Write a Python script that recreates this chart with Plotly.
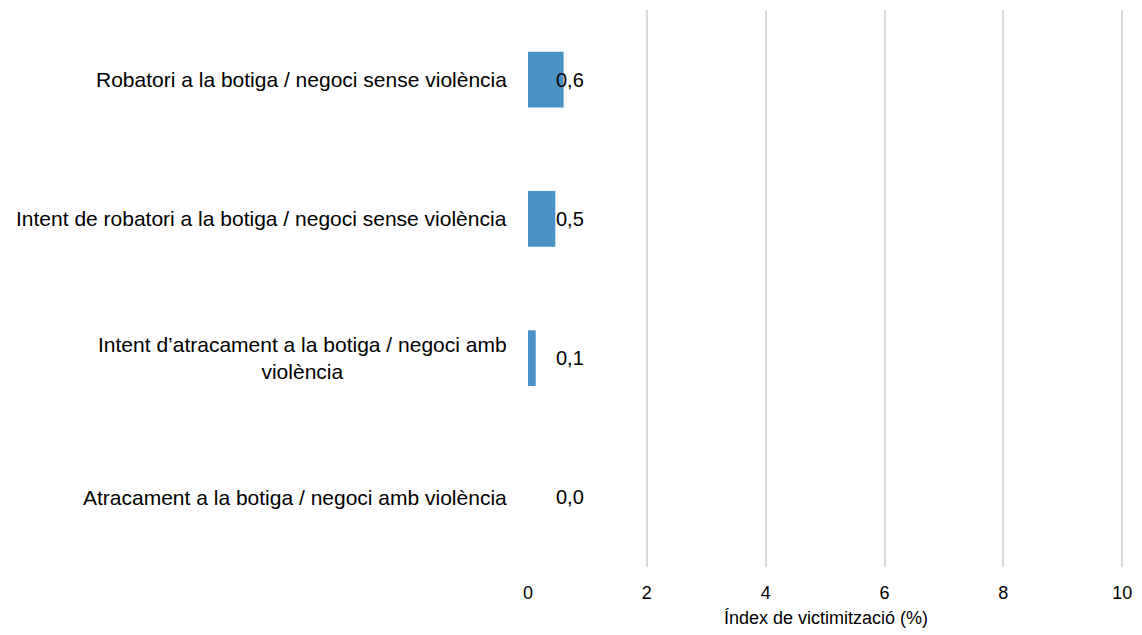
import plotly.graph_objects as go

categories = [
    "Atracament a la botiga / negoci amb violència",
    "Intent d’atracament a la botiga / negoci amb<br>violència",
    "Intent de robatori a la botiga / negoci sense violència",
    "Robatori a la botiga / negoci sense violència",
]
values = [0.0, 0.13, 0.46, 0.6]
value_labels = ["0,0", "0,1", "0,5", "0,6"]
x_ticks = [0, 2, 4, 6, 8, 10]
x_title = "Índex de victimització (%)"

FONT = "Liberation Sans, Arial, sans-serif"

fig = go.Figure()
fig.add_trace(go.Bar(
    y=categories,
    x=values,
    orientation="h",
    marker=dict(color="#4a91c5", line=dict(width=0)),
    width=0.4,
    hoverinfo="skip",
))

annotations = []
for cat, lab in zip(categories, value_labels):
    annotations.append(dict(
        x=0, y=cat, xref="x", yref="y", text=lab, showarrow=False,
        xanchor="left", yanchor="middle", xshift=26,
        font=dict(family=FONT, size=20, color="#000000"),
    ))
    annotations.append(dict(
        x=0, y=cat, xref="paper", yref="y", text=cat, showarrow=False,
        xanchor="right", yanchor="middle", align="center", xshift=-19,
        font=dict(family=FONT, size=21, color="#000000"),
    ))

fig.update_layout(
    width=1142, height=635,
    margin=dict(l=528, r=13, t=10, b=63),
    paper_bgcolor="white", plot_bgcolor="white",
    showlegend=False,
    bargap=0.6,
    annotations=annotations,
    xaxis=dict(
        range=[0, 10.03], tickvals=x_ticks, ticktext=[str(t) for t in x_ticks],
        showgrid=True, gridcolor="#d9d9d9", gridwidth=2,
        zeroline=False, showline=False, ticks="",
        ticklabelstandoff=13, ticklabeloverflow="allow",
        tickfont=dict(family=FONT, size=18, color="#000000"),
        title=dict(text=x_title, font=dict(family=FONT, size=18, color="#000000"), standoff=9),
    ),
    yaxis=dict(
        categoryorder="array", categoryarray=categories,
        showticklabels=False, showgrid=False, zeroline=False, showline=False, ticks="",
    ),
)

fig.write_html(
    "out.html",
    config={"displayModeBar": False},
    post_script=(
        "document.body.style.margin='0';"
        "document.body.style.overflow='hidden';"
        "document.documentElement.style.overflow='hidden';"
    ),
)
